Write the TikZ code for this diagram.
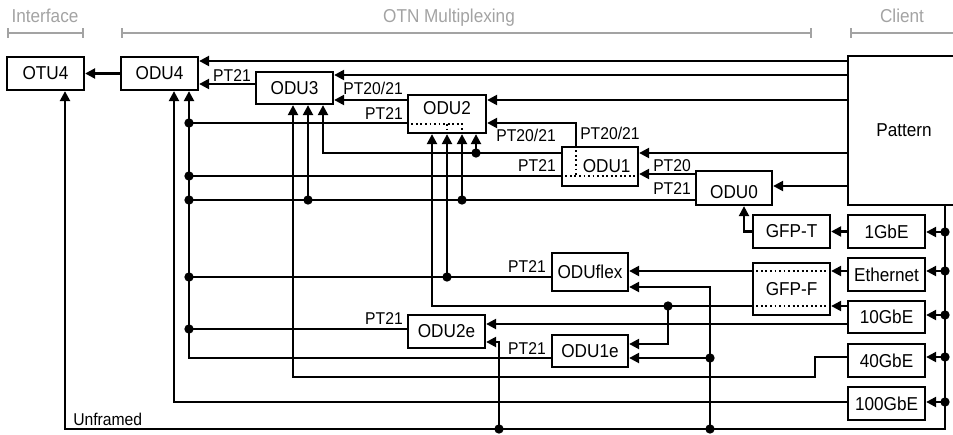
\documentclass[tikz,border=0pt]{standalone}
\usepackage{fontspec}
\setmainfont{Liberation Sans}[FakeStretch=0.92]
\usetikzlibrary{arrows.meta, positioning, calc}
\definecolor{hdrgray}{HTML}{A3A3A3}

\begin{document}
\begin{tikzpicture}[
  x=0.75pt, y=-0.75pt,
  box/.style={draw, line width=1.7pt, inner sep=0pt,
              minimum width=57.75pt, minimum height=24.75pt,
              font=\fontsize{14}{15}\selectfont},
  wire/.style={line width=1.7pt},
  feed/.style={wire, -{Triangle[length=7.5pt, width=7.5pt]}},
  tag/.style={font=\fontsize{12.8}{14}\selectfont, inner sep=0pt},
  hdrtext/.style={font=\fontsize{14}{15}\selectfont, text=hdrgray, inner sep=0pt, anchor=base},
  hdr/.style={draw=hdrgray, line width=1.6pt},
  path/.style={dotted, line width=1.4pt}
]
  \useasboundingbox (0,0) rectangle (953,435);

  % headers
  \node[hdrtext] (ifc) at (45,23) {Interface};
  \node[hdrtext] (otn) at (449,23) {OTN Multiplexing};
  \node[hdrtext] (cli) at (902,23) {Client};
  \draw[hdr, {Bar[width=7pt]}-{Bar[width=7pt]}] (7,33) -- (84,33);
  \draw[hdr, {Bar[width=7pt]}-{Bar[width=7pt]}] (121,33) -- (812,33);
  \draw[hdr, {Bar[width=7pt]}-] (850,33) -- (953,33);

  % boxes
  \node[box] (otu4) at (45.5,73.5) {OTU4};
  \node[box] (odu4) at (159.5,73.5) {ODU4};
  \node[box, minimum height=24pt] (odu3) at (294.5,88) {ODU3};
  \node[box, minimum width=58.5pt, minimum height=28.5pt,
        text height=9pt, text depth=8.5pt] (odu2) at (447,114) {ODU2};
  \node[box, minimum width=57pt, minimum height=29.25pt] (odu1) at (600,166.5) {\hspace*{10pt}ODU1};
  \node[box, minimum width=57pt, minimum height=25.5pt,
        text height=15.5pt, text depth=0pt] (odu0) at (734,188) {ODU0};
  \node[box, minimum width=57pt, minimum height=28.5pt] (oduflex) at (590,272) {ODUflex};
  \node[box] (odu2e) at (446.5,331.5) {ODU2e};
  \node[box, minimum width=57pt, minimum height=24pt] (odu1e) at (590,351) {ODU1e};
  \node[box] (gfpt) at (791.5,231.5) {GFP-T};
  \node[box, minimum height=39pt] (gfpf) at (791.5,289) {GFP-F};
  \node[box] (gbe1) at (886.5,231.5) {1GbE};
  \node[box, minimum height=24.5pt] (ether) at (886.5,274.5) {Ethernet};
  \node[box, minimum height=24pt] (gbe10) at (886.5,317) {10GbE};
  \node[box] (gbe40) at (886.5,360.5) {40GbE};
  \node[box] (gbe100) at (886.5,403.5) {100GbE};
  \node[box, minimum width=84pt, minimum height=111.75pt] (pattern) at (904,130.5) {Pattern};

  % paths inside the boxes
  \draw[path] (odu2.west |- 0,124) -- (462,124) -- (odu2.south -| 462,0);
  \draw[path] (447,124) -- (odu2.south -| 447,0);
  \draw[path] (odu1.north -| 576,0) -- (576,176);
  \draw[path] (odu1.west |- 0,176) -- (odu1.east |- 0,176);
  \draw[path] (gfpf.west |- 0,271) -- (gfpf.east |- 0,271);
  \draw[path] (gfpf.west |- 0,306) -- (gfpf.east |- 0,306);

  % pattern feeds
  \draw[feed] (pattern.west |- 0,61) -- (odu4.east |- 0,61);
  \draw[feed] (pattern.west |- 0,75) -- (odu3.east |- 0,75);
  \draw[feed] (pattern.west |- 0,100) -- (odu2.east |- 0,100);
  \draw[feed] (pattern.west |- 0,153) -- (odu1.east |- 0,153);
  \draw[feed] (pattern.west |- 0,186) -- (odu0.east |- 0,186);

  % multiplexing
  \draw[feed] (odu4.west) -- (otu4.east);
  \draw[feed] (odu3.west |- 0,84) -- (odu4.east |- 0,84);
  \draw[feed] (odu2.west |- 0,100) -- (odu3.east |- 0,100);
  \draw[wire] (odu2.west |- 0,123) -- (189,123);
  \draw[feed] (odu1.north -| 576,0) |- (odu2.east |- 0,123);
  \draw[feed] (odu1.west |- 0,153) -| (odu3.south -| 323,0);
  \draw[feed] (476,153) -- (odu2.south -| 476,0);
  \draw[wire] (odu1.west |- 0,176) -- (189,176);
  \draw[feed] (odu0.west |- 0,174) -- (odu1.east |- 0,174);
  \draw[wire] (odu0.west |- 0,200) -- (189,200);
  \draw[feed] (308,200) -- (odu3.south -| 308,0);
  \draw[feed] (462,200) -- (odu2.south -| 462,0);
  \draw[wire] (oduflex.west |- 0,277) -- (189,277);
  \draw[feed] (447,277) -- (odu2.south -| 447,0);
  \draw[wire] (odu2e.west |- 0,329) -- (189,329);
  \draw[feed] (odu1e.west |- 0,358) -| (odu4.south -| 189,0);

  % clients
  \draw[feed] (gfpt.west) -| (odu0.south -| 744,0);
  \draw[feed] (gbe1.west) -- (gfpt.east);
  \draw[feed] (ether.west |- 0,271) -- (gfpf.east |- 0,271);
  \draw[feed] (gbe10.west |- 0,306) -- (gfpf.east |- 0,306);
  \draw[feed] (gfpf.west |- 0,271) -- (oduflex.east |- 0,271);
  \draw[feed] (gfpf.west |- 0,306) -| (odu2.south -| 432,0);
  \draw[feed] (668,306) |- (odu1e.east |- 0,344);
  \draw[feed] (gbe10.west |- 0,324) -- (odu2e.east |- 0,324);
  \draw[feed] (gbe40.west |- 0,357) -- (815,357) |- (293,377) -- (odu3.south -| 293,0);
  \draw[feed] (gbe100.west |- 0,402) -| (odu4.south -| 174,0);

  % unframed
  \draw[feed] (pattern.south -| 945,0) |- (65,429) -- (otu4.south -| 65,0);
  \draw[feed] (499,429) |- (odu2e.east |- 0,342);
  \draw[feed] (710,429) |- (oduflex.east |- 0,287);
  \draw[feed] (710,358) -- (odu1e.east |- 0,358);
  \foreach \c/\y in {gbe1/232, ether/271, gbe10/315, gbe40/357, gbe100/402}
    \draw[feed] (945,\y) -- (\c.east |- 0,\y);

  % junctions
  \foreach \p in {(189,123), (189,176), (189,200), (189,277), (189,329),
                  (308,200), (462,200), (476,153), (447,277), (668,306),
                  (710,358), (710,429), (499,429), (945,232), (945,271),
                  (945,315), (945,357), (945,402)}
    \fill \p circle (3.5pt);

  % labels
  \node[tag, anchor=base east] (l1) at (251,82) {PT21};
  \node[tag, anchor=base east] (l2) at (403,94) {PT20/21};
  \node[tag, anchor=base east] (l3) at (403,119) {PT21};
  \node[tag, anchor=base east] (l4) at (556,142) {PT20/21};
  \node[tag, anchor=base west] (l5) at (580,139) {PT20/21};
  \node[tag, anchor=base east] (l6) at (556,171) {PT21};
  \node[tag, anchor=base west] (l7) at (653,171) {PT20};
  \node[tag, anchor=base west] (l8) at (653,194) {PT21};
  \node[tag, anchor=base east] (l9) at (546,272) {PT21};
  \node[tag, anchor=base east] (l10) at (403,324) {PT21};
  \node[tag, anchor=base east] (l11) at (546,354) {PT21};
  \node[tag, anchor=base west] (uf) at (73,425) {Unframed};
\end{tikzpicture}
\end{document}
